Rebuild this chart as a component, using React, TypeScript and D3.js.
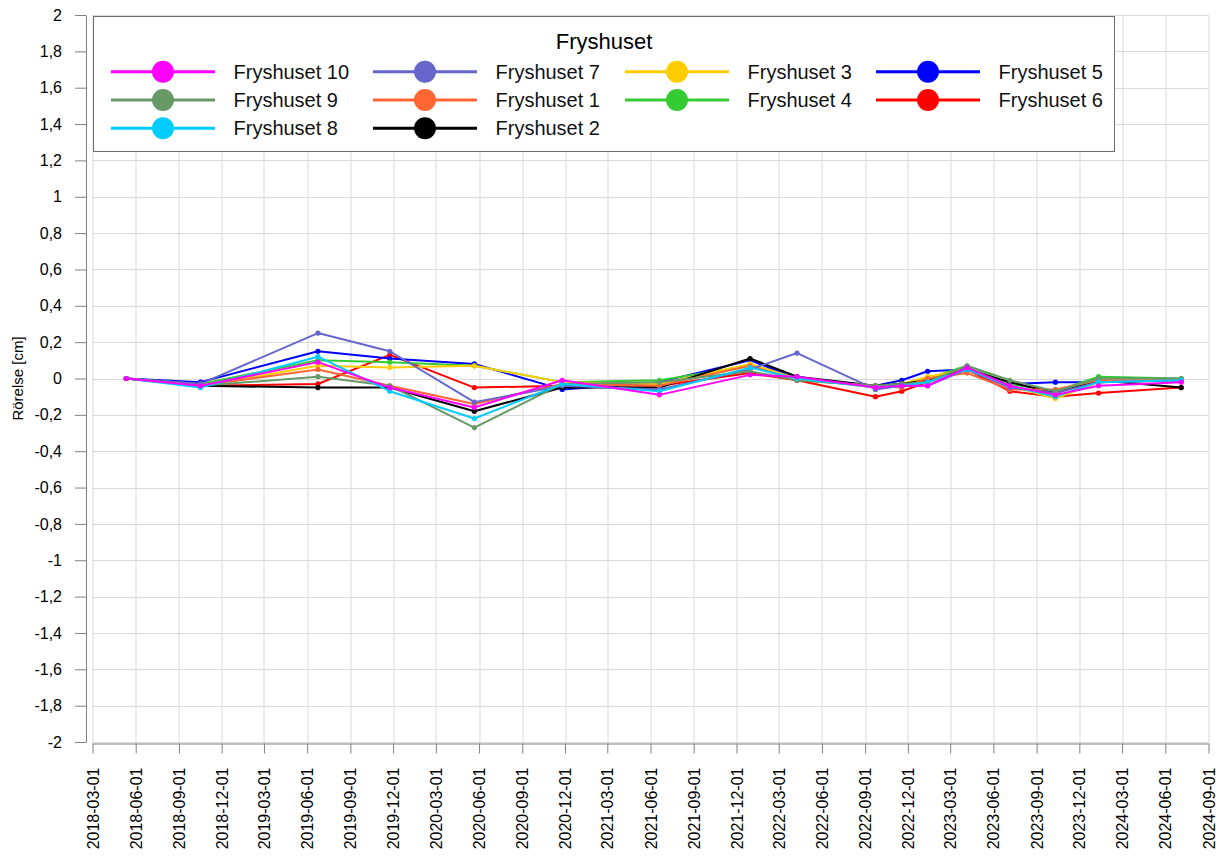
import React, { useEffect, useRef } from 'react';
import * as d3 from 'd3';

// measurement dates
const dates = [
    '2018-05-12', '2018-10-17', '2019-06-24', '2019-11-24', '2020-05-22', '2020-11-25',
    '2021-06-20', '2021-12-30', '2022-04-09', '2022-09-23', '2022-11-18', '2023-01-12',
    '2023-04-06', '2023-07-06', '2023-10-11', '2024-01-11', '2024-07-05'
];

// movement in cm per point
const fryshuset1 = [0, -0.04, 0.05, -0.04, -0.14, -0.03, -0.04, 0.07, -0.01, -0.04, -0.05, 0.0, 0.03, -0.06, -0.06, -0.01, -0.01];
const fryshuset2 = [0, -0.04, -0.05, -0.05, -0.18, -0.05, -0.05, 0.11, 0.01, -0.04, -0.03, -0.01, 0.05, -0.02, -0.08, -0.01, -0.05];
const fryshuset3 = [0, -0.04, 0.07, 0.06, 0.07, -0.02, -0.03, 0.08, 0.0, -0.05, -0.03, 0.01, 0.05, -0.04, -0.11, -0.02, -0.01];
const fryshuset4 = [0, -0.03, 0.1, 0.09, 0.07, -0.02, -0.01, 0.07, 0.0, -0.04, -0.03, 0.0, 0.07, -0.03, -0.07, 0.01, 0.0];
const fryshuset5 = [0, -0.02, 0.15, 0.11, 0.08, -0.06, -0.02, 0.1, 0.0, -0.04, -0.01, 0.04, 0.05, -0.03, -0.02, -0.02, -0.01];
const fryshuset6 = [0, -0.04, -0.03, 0.13, -0.05, -0.04, -0.04, 0.03, -0.01, -0.1, -0.07, -0.02, 0.05, -0.07, -0.1, -0.08, -0.05];
const fryshuset7 = [0, -0.03, 0.25, 0.15, -0.13, -0.04, -0.06, 0.05, 0.14, -0.06, -0.04, -0.04, 0.05, -0.05, -0.08, -0.02, -0.01];
const fryshuset8 = [0, -0.05, 0.12, -0.07, -0.22, -0.03, -0.07, 0.06, 0.0, -0.05, -0.04, -0.02, 0.05, -0.04, -0.1, -0.02, -0.01];
const fryshuset9 = [0, -0.04, 0.01, -0.04, -0.27, -0.03, -0.02, 0.04, -0.01, -0.04, -0.03, -0.02, 0.07, -0.01, -0.07, 0.0, 0.0];
const fryshuset10 = [0, -0.04, 0.09, -0.05, -0.16, -0.01, -0.09, 0.02, 0.01, -0.05, -0.04, -0.04, 0.06, -0.04, -0.09, -0.04, -0.02];

// drawing order (last one ends on top)
const series = [
    { name: 'Fryshuset 6', color: '#ff0000', values: fryshuset6 },
    { name: 'Fryshuset 5', color: '#0000ff', values: fryshuset5 },
    { name: 'Fryshuset 4', color: '#33cc33', values: fryshuset4 },
    { name: 'Fryshuset 3', color: '#ffcc00', values: fryshuset3 },
    { name: 'Fryshuset 2', color: '#000000', values: fryshuset2 },
    { name: 'Fryshuset 1', color: '#ff6633', values: fryshuset1 },
    { name: 'Fryshuset 7', color: '#6666cc', values: fryshuset7 },
    { name: 'Fryshuset 9', color: '#669966', values: fryshuset9 },
    { name: 'Fryshuset 8', color: '#00ccff', values: fryshuset8 },
    { name: 'Fryshuset 10', color: '#ff00ff', values: fryshuset10 }
];

// legend is filled row by row, four per row
const legendOrder = [
    'Fryshuset 10', 'Fryshuset 7', 'Fryshuset 3', 'Fryshuset 5',
    'Fryshuset 9', 'Fryshuset 1', 'Fryshuset 4', 'Fryshuset 6',
    'Fryshuset 8', 'Fryshuset 2'
];

const legendTitle = 'Fryshuset';
const yLabel = 'Rörelse [cm]';
const yTicks = [2, 1.8, 1.6, 1.4, 1.2, 1, 0.8, 0.6, 0.4, 0.2, 0, -0.2, -0.4, -0.6, -0.8, -1, -1.2, -1.4, -1.6, -1.8, -2];

const FONT = '"Liberation Sans", Arial, sans-serif';

export default function App() {
    const ref = useRef<SVGSVGElement | null>(null);

    useEffect(() => {
        const width = 1222;
        const height = 856;
        const margin = { top: 15, right: 13.5, bottom: 114, left: 92.5 };
        const w = width - margin.left - margin.right;
        const h = height - margin.top - margin.bottom;

        const parse = d3.timeParse('%Y-%m-%d');
        const t0 = new Date(2018, 2, 1);
        const t1 = new Date(2024, 8, 1);

        const svg = d3.select(ref.current);
        svg.selectAll('*').remove();

        const scale_x = d3.scaleTime().domain([t0, t1]).range([0, w]);
        const scale_y = d3.scaleLinear().domain([-2, 2]).range([h, 0]);
        const xTicks = d3.timeMonth.range(t0, new Date(2024, 8, 2), 3);

        const chart = svg.append('g')
            .attr('transform', `translate(${margin.left}, ${margin.top})`);

        // grid
        chart.append('g')
            .selectAll('line')
            .data(xTicks)
            .join('line')
            .attr('x1', (d) => Math.round(scale_x(d)) + 0.5)
            .attr('x2', (d) => Math.round(scale_x(d)) + 0.5)
            .attr('y1', 0)
            .attr('y2', h)
            .attr('stroke', '#d9d9d9');

        chart.append('g')
            .selectAll('line')
            .data(yTicks)
            .join('line')
            .attr('x1', 0)
            .attr('x2', w)
            .attr('y1', (d) => Math.round(scale_y(d)) + 0.5)
            .attr('y2', (d) => Math.round(scale_y(d)) + 0.5)
            .attr('stroke', '#d9d9d9');

        // y axis, offset a bit left of the plot
        const yAxis = chart.append('g')
            .attr('transform', 'translate(-6.5, 0)')
            .call(d3.axisLeft(scale_y)
                .tickValues(yTicks)
                .tickSize(11)
                .tickPadding(13)
                .tickSizeOuter(0)
                .tickFormat((d) => String(d).replace('.', ',')));
        yAxis.selectAll('path, line').attr('stroke', '#808080');
        yAxis.selectAll('text')
            .attr('fill', '#000')
            .style('font-family', FONT)
            .style('font-size', '16px');

        // x axis
        const xAxis = chart.append('g')
            .attr('transform', `translate(0, ${h + 1.5})`)
            .call(d3.axisBottom(scale_x)
                .tickValues(xTicks)
                .tickSize(10)
                .tickSizeOuter(0)
                // @ts-expect-error
                .tickFormat(d3.timeFormat('%Y-%m-%d')));
        xAxis.selectAll('path, line').attr('stroke', '#808080');
        xAxis.selectAll('text')
            .attr('fill', '#000')
            .attr('x', -24)
            .attr('y', 0)
            .attr('dy', '0.35em')
            .attr('transform', 'rotate(-90)')
            .style('text-anchor', 'end')
            .style('font-family', FONT)
            .style('font-size', '16px');

        // y label
        svg.append('text')
            .attr('transform', `translate(23, ${margin.top + scale_y(0)}) rotate(-90)`)
            .attr('text-anchor', 'middle')
            .style('font-family', FONT)
            .style('font-size', '15px')
            .text(yLabel);

        // lines
        const line = d3.line<[Date, number]>()
            .x((d) => scale_x(d[0]))
            .y((d) => scale_y(d[1]));

        series.forEach((s) => {
            const pts: [Date, number][] = s.values.map((v, i) => [parse(dates[i]) as Date, v]);
            const g = chart.append('g');
            g.append('path')
                .datum(pts)
                .attr('fill', 'none')
                .attr('stroke', s.color)
                .attr('stroke-width', 2)
                .attr('stroke-linejoin', 'round')
                .attr('d', line);
            g.selectAll('circle')
                .data(pts)
                .join('circle')
                .attr('cx', (d) => scale_x(d[0]))
                .attr('cy', (d) => scale_y(d[1]))
                .attr('r', 2.6)
                .attr('fill', s.color);
        });

        // legend
        const legend = svg.append('g');
        legend.append('rect')
            .attr('x', 93.5)
            .attr('y', 16.5)
            .attr('width', 1021)
            .attr('height', 135)
            .attr('fill', '#fff')
            .attr('stroke', '#6e6e6e');

        legend.append('text')
            .attr('x', 604)
            .attr('y', 49)
            .attr('text-anchor', 'middle')
            .style('font-family', FONT)
            .style('font-size', '22px')
            .text(legendTitle);

        const colX = [163, 425, 677, 928];
        const rowY = [71.7, 100, 128.3];
        legendOrder.forEach((name, i) => {
            const s = series.find((d) => d.name === name);
            if (!s) return;
            const cx = colX[i % 4];
            const cy = rowY[Math.floor(i / 4)];
            const item = legend.append('g');
            item.append('line')
                .attr('x1', cx - 52)
                .attr('x2', cx + 52)
                .attr('y1', cy)
                .attr('y2', cy)
                .attr('stroke', s.color)
                .attr('stroke-width', 3);
            item.append('circle')
                .attr('cx', cx)
                .attr('cy', cy)
                .attr('r', 11)
                .attr('fill', s.color);
            item.append('text')
                .attr('x', cx + 70.5)
                .attr('y', cy)
                .attr('dy', '0.35em')
                .style('font-family', FONT)
                .style('font-size', '20px')
                .attr('fill', '#111')
                .text(s.name);
        });
    }, []);

    return (
        <svg
            ref={ref}
            width={1222}
            height={856}
            style={{ position: 'absolute', left: 0, top: 0, background: '#fff' }}
        />
    );
}
